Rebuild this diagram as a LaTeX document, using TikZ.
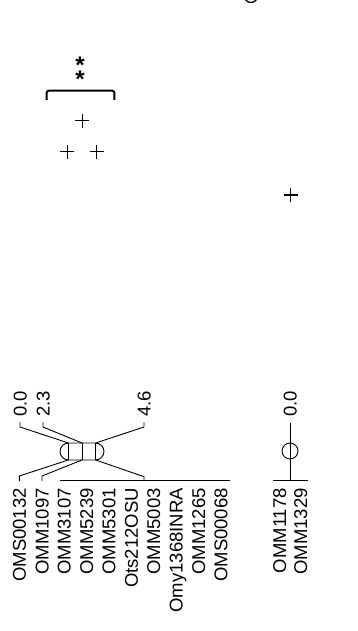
\documentclass[tikz,border=0pt]{standalone}
\usepackage{fontspec}
\setmainfont{Liberation Sans}
\usetikzlibrary{positioning}
\newcommand{\labelfont}{\fontsize{18.5}{20}\selectfont}

\begin{document}
\begin{tikzpicture}[
    x=1pt, y=-1pt,
    map_line/.style={line width=0.9pt, black},
    marker_label/.style={
        rotate=90,
        anchor=east,
        inner sep=0pt,
        text height=13pt,
        text depth=0pt,
        font=\labelfont
    },
    pos_label/.style={
        marker_label,
        anchor=west
    },
    qtl_mark/.style={line width=1.4pt, black},
    sig_star/.style={
        anchor=center,
        inner sep=0pt,
        font=\bfseries\fontsize{24}{24}\selectfont
    }
]
    \useasboundingbox (0,0) rectangle (358,631);
    \clip (0,0) rectangle (358,631);

    % Cut-off letter at the top
    \draw[line width=1.3pt] (251,-4) circle (6.5pt);

    % Significance bracket
    \draw[line width=2pt, rounded corners=2pt] (46.7,100) -- (46.7,90.7) -- (114.3,90.7) -- (114.3,100);
    \node[sig_star] (s1) at (80,65.5) {\raisebox{-10pt}{*}};
    \node[sig_star] (s2) at (80,79) {\raisebox{-10pt}{*}};

    % QTL marks
    \draw[qtl_mark] (75.3,120.7) -- (89.3,120.7) (82.3,113.7) -- (82.3,127.7);
    \draw[qtl_mark] (60.3,151.7) -- (74.3,151.7) (67.3,144.7) -- (67.3,158.7);
    \draw[qtl_mark] (89.7,151.7) -- (103.7,151.7) (96.7,144.7) -- (96.7,158.7);
    \draw[qtl_mark] (283.7,195) -- (297.7,195) (290.7,188) -- (290.7,202);

    % Linkage group 1
    \draw[map_line, rounded corners=8.5pt] (60,443) rectangle (104,460);
    \draw[map_line] (68.3,443) -- (68.3,460);
    \draw[map_line] (82,443) -- (82,460);
    \draw[map_line] (95.7,443) -- (95.7,460);
    \coordinate (t1) at (68.3,443);
    \coordinate (t2) at (82,443);
    \coordinate (t3) at (95.7,443);
    \coordinate (b1) at (68.3,460);
    \coordinate (b2) at (82,460);
    \coordinate (b3) at (95.7,460);

    \node[pos_label] (p1) at (20,417) {0.0};
    \node[pos_label] (p2) at (43,417) {2.3};
    \node[pos_label] (p3) at (144,417) {4.6};
    \draw[map_line] (p1.west) ++(0,5) -- ++(0,5) -- (t1);
    \draw[map_line] (p2.west) ++(0,5) -- ++(0,5) -- (t2);
    \draw[map_line] (p3.west) ++(0,5) -- ++(0,5) -- (t3);

    \node[marker_label] (m1) at (19.3,488) {OMS00132};
    \node[marker_label] (m2) at (42,488) {OMM1097};
    \node[marker_label] (m3) at (64.1,488) {OMM3107};
    \node[marker_label] (m4) at (86.5,488) {OMM5239};
    \node[marker_label] (m5) at (108.9,488) {OMM5301};
    \node[marker_label] (m6) at (131.3,488) {Ots212OSU};
    \node[marker_label] (m7) at (153.7,488) {OMM5003};
    \node[marker_label] (m8) at (176.1,488) {Omy1368INRA};
    \node[marker_label] (m9) at (198.5,488) {OMM1265};
    \node[marker_label] (m10) at (220.9,488) {OMS00068};

    \coordinate (g3) at (144,480.7);
    \draw[map_line] (m1.east) ++(0,-7) -- ++(0,-5) -- (b1);
    \draw[map_line] (m2.east) ++(0,-7) -- ++(0,-5) -- (b2);
    \draw[map_line] (60,480.7) -- (g3) -- (230,480.7);
    \draw[map_line] (g3) -- ++(0,-4) -- (b3);

    % Linkage group 2
    \node[pos_label] (q1) at (290,417) {0.0};
    \coordinate (r1) at (290,480.3);
    \draw[map_line] (q1.west) ++(0,6) -- (r1);
    \draw[map_line] (290,451) circle (8pt);
    \node[marker_label] (n1) at (279.5,488) {OMM1178};
    \node[marker_label] (n2) at (300.5,488) {OMM1329};
    \draw[map_line] (273,480.3) -- (r1) -- (308,480.3);
\end{tikzpicture}
\end{document}
